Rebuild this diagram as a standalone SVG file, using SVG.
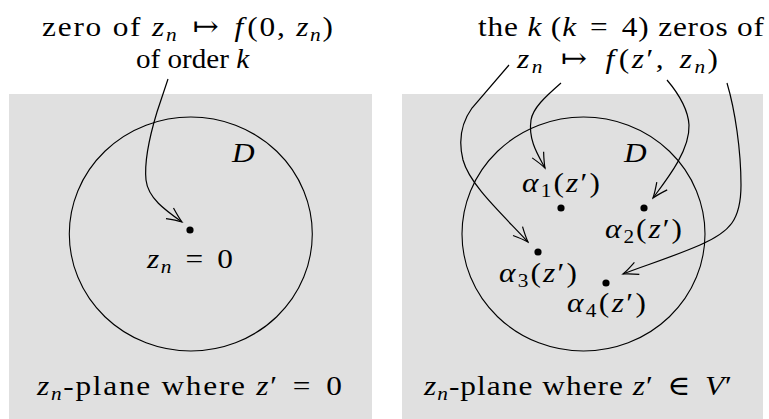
<svg xmlns="http://www.w3.org/2000/svg" width="769" height="419" viewBox="0 0 769 419">
<style>
text{font-family:"Liberation Serif","DejaVu Serif",serif;font-size:28px;fill:#000}
.i{font-style:italic}
.s{font-size:19px;font-style:italic}
.s1{font-size:19px}
.panel{fill:#e0e0e0;stroke:none}
.disk{fill:none;stroke:#000;stroke-width:1.1}
.dot{fill:#000}
.conn path{fill:none;stroke:#000;stroke-width:1.2;marker-end:url(#ah)}
</style>
<defs>
<marker id="ah" viewBox="-16 -8 18 16" markerWidth="18" markerHeight="16" refX="0" refY="0" orient="auto" markerUnits="userSpaceOnUse">
<path d="M-15,-6.5 Q-6,-2 0,0 Q-6,2 -15,6.5" fill="none" stroke="#000" stroke-width="1.2"/>
</marker>
</defs>
<g id="panel-left">
<rect class="panel" x="9" y="94" width="363" height="325"/>
<ellipse class="disk" cx="190.8" cy="234" rx="121.5" ry="117"/>
<text transform="translate(232,162) scale(1.12,1)" class="i">D</text>
<circle class="dot" cx="190" cy="230" r="3.6"/>
<text transform="translate(147,268) scale(1.12,1)" textLength="76.8" lengthAdjust="spacing"><tspan class="i">z</tspan><tspan class="s" dy="5">n</tspan><tspan dy="-5" dx="3"> = </tspan><tspan dx="3">0</tspan></text>
<text transform="translate(37,395) scale(1.12,1)" textLength="272.3" lengthAdjust="spacing"><tspan class="i">z</tspan><tspan class="s" dy="5">n</tspan><tspan dy="-5">-plane where </tspan><tspan class="i">z</tspan><tspan>′</tspan><tspan dx="4"> = </tspan><tspan dx="4">0</tspan></text>
</g>
<g id="panel-right">
<rect class="panel" x="402" y="94" width="361" height="325"/>
<ellipse class="disk" cx="583.5" cy="234" rx="121.5" ry="117"/>
<text transform="translate(624,162) scale(1.12,1)" class="i">D</text>
<text transform="translate(424,395) scale(1.12,1)" textLength="275" lengthAdjust="spacing"><tspan class="i">z</tspan><tspan class="s" dy="5">n</tspan><tspan dy="-5">-plane where </tspan><tspan class="i">z</tspan><tspan>′</tspan><tspan dx="4"> ∈ </tspan><tspan class="i" dx="4">V</tspan><tspan>′</tspan></text>
</g>
<g id="label-left">
<text transform="translate(42,36) scale(1.12,1)" textLength="259.8" lengthAdjust="spacing">zero of <tspan class="i">z</tspan><tspan class="s" dy="5">n</tspan><tspan dy="-5" dx="4"> ↦ </tspan><tspan class="i" dx="4">f</tspan><tspan dx="2">(0, </tspan><tspan class="i">z</tspan><tspan class="s" dy="5">n</tspan><tspan dy="-5">)</tspan></text>
<text transform="translate(192.5,68) scale(1.04,1)" text-anchor="middle">of order <tspan class="i">k</tspan></text>
</g>
<g id="label-right">
<text transform="translate(478,36) scale(1.12,1)" textLength="255.4" lengthAdjust="spacing">the <tspan class="i">k</tspan> (<tspan class="i">k</tspan><tspan dx="4"> = </tspan><tspan dx="4">4) zeros of</tspan></text>
<text transform="translate(517,68) scale(1.12,1)" textLength="179.5" lengthAdjust="spacing"><tspan class="i">z</tspan><tspan class="s" dy="5">n</tspan><tspan dy="-5" dx="5"> ↦ </tspan><tspan class="i" dx="5">f</tspan><tspan dx="2">(</tspan><tspan class="i">z</tspan><tspan>′,</tspan><tspan dx="3"> </tspan><tspan class="i">z</tspan><tspan class="s" dy="5">n</tspan><tspan dy="-5">)</tspan></text>
</g>
<g id="alpha1">
<circle class="dot" cx="561" cy="208" r="3.6"/>
<text transform="translate(522,192) scale(1.12,1)" textLength="69.6" lengthAdjust="spacing"><tspan class="i">α</tspan><tspan class="s1" dy="5">1</tspan><tspan dy="-5">(</tspan><tspan class="i">z</tspan>′)</text>
</g>
<g id="alpha2">
<circle class="dot" cx="644" cy="208" r="3.6"/>
<text transform="translate(605,238) scale(1.12,1)" textLength="68.75" lengthAdjust="spacing"><tspan class="i">α</tspan><tspan class="s1" dy="5">2</tspan><tspan dy="-5">(</tspan><tspan class="i">z</tspan>′)</text>
</g>
<g id="alpha3">
<circle class="dot" cx="538" cy="252" r="3.6"/>
<text transform="translate(499,282) scale(1.12,1)" textLength="69.6" lengthAdjust="spacing"><tspan class="i">α</tspan><tspan class="s1" dy="5">3</tspan><tspan dy="-5">(</tspan><tspan class="i">z</tspan>′)</text>
</g>
<g id="alpha4">
<circle class="dot" cx="606" cy="283" r="3.6"/>
<text transform="translate(567,312) scale(1.12,1)" textLength="70.5" lengthAdjust="spacing"><tspan class="i">α</tspan><tspan class="s1" dy="5">4</tspan><tspan dy="-5">(</tspan><tspan class="i">z</tspan>′)</text>
</g>
<g id="connectors" class="conn">
<path d="M168,79 L157,112 C150,135 144,160 146,180 C148,198 165,210 182,222"/>
<path d="M509,65 L472,108 C462,122 458,140 463,160 C470,185 500,212 528,242"/>
<path d="M561,83 C545,97 533,108 531,120 C528,140 538,155 545,168"/>
<path d="M667,80 C678,93 688,108 689,125 C690,150 668,178 653,198"/>
<path d="M727,83 C735,110 741,150 741,185 C741,220 730,232 700,245 C670,258 640,267 623,274"/>
</g>
</svg>
